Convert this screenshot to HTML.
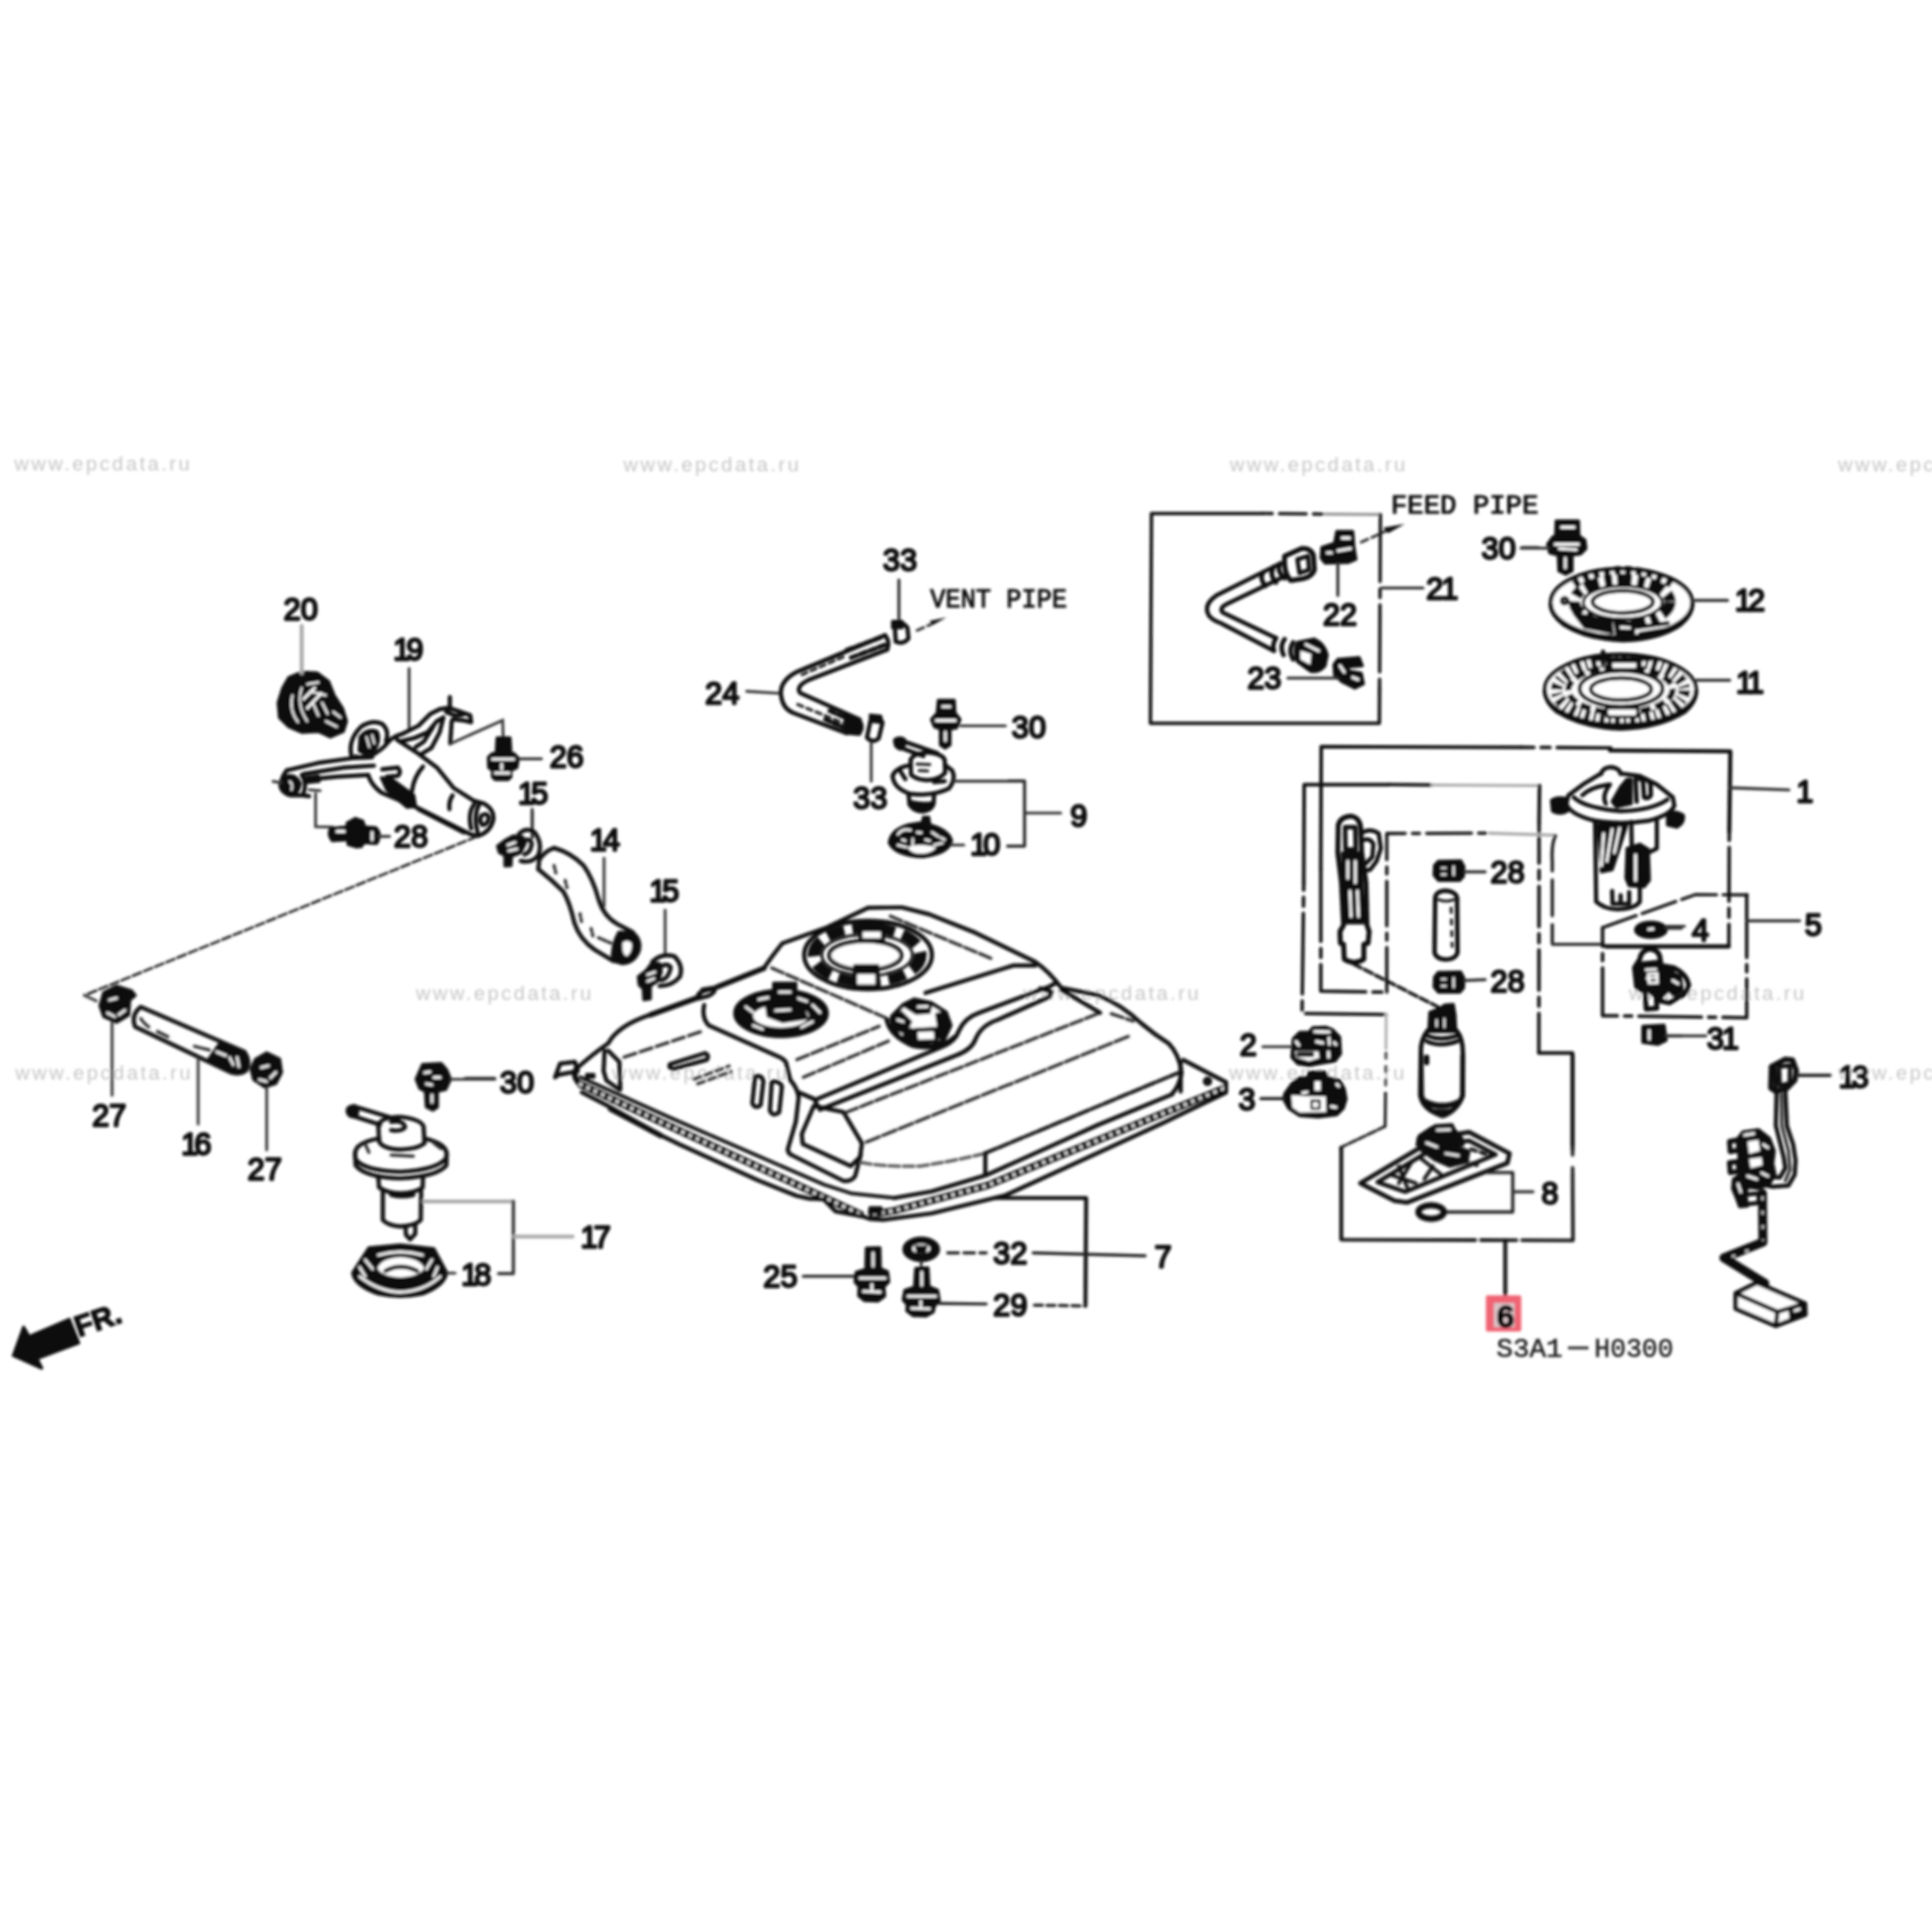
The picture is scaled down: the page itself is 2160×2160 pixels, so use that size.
<!DOCTYPE html>
<html><head><meta charset="utf-8"><title>Fuel tank parts diagram</title>
<style>
html,body{margin:0;padding:0;background:#fff;}
body{width:2160px;height:2160px;overflow:hidden;font-family:"Liberation Sans",sans-serif;}
svg{display:block;position:absolute;left:0;top:0;}
svg *{vector-effect:non-scaling-stroke;}
.k{fill:none;stroke:#0c0c0c;stroke-width:4.7;stroke-linecap:round;stroke-linejoin:round;}
.t{fill:none;stroke:#2a2a2a;stroke-width:3.5;stroke-linecap:round;stroke-linejoin:round;}
.l{fill:none;stroke:#333;stroke-width:3.1;stroke-linecap:round;}
.f{fill:#0c0c0c;stroke:#0c0c0c;stroke-width:3.4;stroke-linejoin:round;}
.w{fill:#fff;stroke:#0c0c0c;stroke-width:4.5;stroke-linejoin:round;stroke-linecap:round;}
.ws{fill:none;stroke:#fff;stroke-width:3;stroke-linecap:round;}
.n{font-family:"Liberation Sans",sans-serif;font-size:34.5px;fill:#0a0a0a;stroke:#0a0a0a;stroke-width:2.3;stroke-linejoin:round;text-anchor:middle;}
.wm{font-family:"Liberation Sans",sans-serif;font-size:22.5px;fill:#c6c6c6;}
.m{font-family:"Liberation Mono",monospace;font-size:29px;fill:#111;stroke:#111;stroke-width:1.1;}
</style></head><body>
<svg width="2160" height="2160" viewBox="0 0 2160 2160">
<defs><filter id="bl" x="-2%" y="-2%" width="104%" height="104%"><feGaussianBlur stdDeviation="1.8"/></filter></defs>
<rect width="2160" height="2160" fill="#fff"/>
<g filter="url(#bl)">
<!-- t00_wm.svg -->
<text class="wm" x="16" y="526" textLength="196" lengthAdjust="spacing">www.epcdata.ru</text>
<text class="wm" x="697" y="527" textLength="196" lengthAdjust="spacing">www.epcdata.ru</text>
<text class="wm" x="1375" y="527" textLength="196" lengthAdjust="spacing">www.epcdata.ru</text>
<text class="wm" x="2055" y="527" textLength="196" lengthAdjust="spacing">www.epcdata.ru</text>
<text class="wm" x="465" y="1118" textLength="196" lengthAdjust="spacing">www.epcdata.ru</text>
<text class="wm" x="1144" y="1118" textLength="196" lengthAdjust="spacing">www.epcdata.ru</text>
<text class="wm" x="1821" y="1118" textLength="196" lengthAdjust="spacing">www.epcdata.ru</text>
<text class="wm" x="17" y="1207" textLength="196" lengthAdjust="spacing">www.epcdata.ru</text>
<text class="wm" x="684" y="1207" textLength="196" lengthAdjust="spacing">www.epcdata.ru</text>
<text class="wm" x="1374" y="1207" textLength="196" lengthAdjust="spacing">www.epcdata.ru</text>
<text class="wm" x="2055" y="1207" textLength="196" lengthAdjust="spacing">www.epcdata.ru</text>

<!-- t01_bracket.svg -->
<g transform="translate(240,620) scale(0.207039)">
<!-- cap 20 -->
<path class="f" d="M400,665 L470,635 L555,640 L615,685 L645,760 L690,830 L712,900 L695,955 L625,985 L560,955 L470,960 L400,930 L350,880 L343,800 L368,720 Z"/>
<path class="ws" d="M420,760 Q400,840 450,905" style="stroke-width:2px"/>
<path class="ws" d="M470,720 Q440,810 500,900" style="stroke-width:2px"/>
<path class="ws" d="M500,700 L560,690 M520,740 L600,760 M530,800 L560,870 M580,800 L610,860 M600,900 L660,930 M640,850 L680,880" style="stroke-width:2.2px"/>
<path class="ws" d="M480,780 L540,720 M500,830 L575,750"/>
<!-- leader 20 -->
<path class="l" d="M470,385 L470,640" style="stroke:#aaa;stroke-width:4.5px"/>
<!-- leader 19 -->
<path class="l" d="M1050,615 L1050,940"/>
<!-- bracket ring -->
<path class="k" d="M738,1085 Q720,1000 790,930 Q850,890 905,915 Q945,950 925,1010"/>
<path class="k" d="M760,1090 Q790,1100 820,1085"/>
<path class="f" d="M785,985 Q825,935 878,955 Q900,1000 862,1060 Q820,1090 780,1060 Z"/><path class="ws" d="M820,985 L835,1040 M850,975 L862,1020" style="stroke-width:2px"/>
<!-- upper arm -->
<path class="k" d="M830,1095 Q900,1060 940,1010 Q960,985 1010,970 L1100,925 L1165,860 L1215,835 L1265,828 L1330,850 L1380,868 L1385,905 L1340,895 L1285,890"/>
<path class="k" d="M1270,770 L1270,835"/>
<path class="k" d="M1250,850 L1300,870 L1340,865"/>
<path class="k" d="M1000,1010 L1080,990 L1150,960 L1200,900 L1235,880"/>
<path class="k" d="M1235,880 L1215,960 L1170,1045 L1120,1075"/>
<path class="k" d="M1180,930 L1130,1010 L1085,1040"/>
<path class="k" d="M1280,900 L1272,1020"/>
<!-- left arm -->
<path class="k" d="M390,1165 L560,1125 L740,1100 L850,1095"/>
<path class="k" d="M480,1185 L700,1150 L860,1140"/>
<path class="k" d="M500,1215 L660,1200 L830,1190"/>
<path class="k" d="M390,1165 Q360,1200 355,1250 Q365,1290 410,1300 L470,1300 L510,1305"/>
<path class="k" d="M470,1190 Q500,1230 480,1290"/>
<path class="f" d="M380,1200 Q435,1180 462,1235 Q455,1295 405,1298 Q360,1265 380,1200 Z"/><path class="ws" d="M405,1225 Q425,1240 415,1270" style="stroke-width:2px"/><path class="f" d="M490,1205 L560,1195 L565,1225 L495,1232 Z"/>
<path class="l" d="M315,1225 L360,1232"/>
<!-- main cone tube -->
<path class="k" d="M985,1000 L1100,1075 L1200,1150 L1290,1260 L1400,1330 L1455,1345 Q1510,1375 1505,1430 Q1490,1500 1420,1520 L1380,1510"/>
<path class="k" d="M830,1195 Q850,1250 900,1285 L1100,1370 L1370,1505"/>
<path class="k" d="M1125,1145 Q1075,1200 1065,1280"/>
<path class="k" d="M1285,1300 Q1262,1335 1268,1375"/>
<path class="k" d="M1400,1350 Q1365,1400 1385,1480"/>
<path class="k" d="M1430,1345 Q1395,1410 1420,1500"/>
<path class="k" d="M1440,1410 Q1470,1390 1480,1420 Q1475,1460 1445,1460 Q1428,1440 1440,1410 Z"/>
<path class="k" d="M905,1160 L990,1150 Q1010,1175 990,1195 L930,1200"/>
<path class="f" d="M900,1205 L960,1215 L1075,1300 L1085,1360 L1040,1365 L985,1320 L930,1270 Z"/>
<path class="k" d="M1100,1375 L1345,1500"/>
<!-- line to bolt 26 -->
<path class="l" d="M1272,1022 L1555,895 L1558,985"/>
<!-- bolt 26 -->
<path class="f" d="M1525,990 L1595,990 L1600,1080 L1520,1080 Z"/>
<path class="f" d="M1478,1095 L1500,1075 L1615,1075 L1640,1100 L1632,1150 L1600,1165 L1600,1200 L1585,1215 L1515,1215 L1500,1200 L1500,1165 L1480,1150 Z"/>
<path class="ws" d="M1500,1105 L1615,1105 M1515,1180 L1590,1180 M1550,1130 L1550,1160"/>
<path class="l" d="M1645,1103 L1765,1103"/>
<!-- line to bolt 28 -->
<path class="l" d="M545,1290 L545,1470 L640,1472"/>
<path class="l" d="M510,1270 L570,1275"/>
<!-- bolt 28 left -->
<path class="f" d="M625,1480 L720,1470 L720,1540 L635,1545 Q610,1515 625,1480 Z"/>
<path class="f" d="M715,1450 L760,1425 L800,1440 L805,1560 L770,1580 L720,1565 Z"/>
<path class="w" d="M770,1440 Q810,1500 775,1572 L790,1575 Q830,1500 795,1440 Z"/>
<path class="f" d="M800,1470 L870,1475 Q905,1510 875,1560 L805,1555 Z"/>
<path class="ws" d="M660,1495 L700,1495 M850,1500 L850,1540"/>
<path class="l" d="M885,1522 L945,1522"/>
<!-- leader 15 -->
<path class="l" d="M1715,1385 L1715,1530"/>
</g>

<!-- t02_tube16.svg -->
<path d="M534,935 L94,1113" fill="none" stroke="#222" stroke-width="2.8" stroke-dasharray="12 1.5"/>
<g transform="translate(60,1000) scale(0.207039)">
<path class="l" d="M165,545 L230,575"/>
<!-- nut 27 left -->
<path class="f" d="M270,530 L340,495 L420,520 L440,545 L410,570 L405,650 L340,690 L270,660 L250,600 Z"/>
<path class="ws" d="M300,570 L340,560 M290,640 L330,660 M350,650 L385,625"/>
<path class="l" d="M315,690 L315,1085"/>
<!-- tube 16 -->
<path class="k" d="M470,607 L1030,850 Q1065,900 1040,950 Q1010,975 960,962 L440,715 Q415,650 470,607 Z"/>
<path class="f" d="M900,800 L1030,850 Q1065,900 1040,950 Q1010,975 960,962 L830,900 Z"/>
<path class="ws" d="M880,850 L930,870 M950,880 L970,920 M990,880 L1000,930"/>
<path class="t" d="M470,670 Q490,700 520,720 M560,740 L620,770 M760,820 L840,840" stroke-dasharray="3 2"/>
<path class="l" d="M780,885 L780,1240"/>
<!-- nut 27 right -->
<path class="f" d="M1090,890 L1150,855 L1220,890 L1230,960 L1200,1020 L1140,1040 L1080,1000 L1065,940 Z"/>
<path class="ws" d="M1120,935 L1160,925 M1110,1000 L1150,1010 M1170,990 L1200,960"/>
<path class="l" d="M1150,1040 L1150,1380"/>
</g>

<!-- t03_valve17.svg -->
<g transform="translate(340,1160) scale(0.207039)">
<!-- bolt 30 -->
<path class="f" d="M640,145 L740,140 L770,175 L790,225 L765,280 L720,290 L720,375 L695,392 L660,375 L655,290 L625,275 L605,225 Z"/>
<path class="ws" d="M650,190 L680,185 M700,215 L735,215 M660,250 L690,255 M690,310 L690,350"/>
<path class="l" d="M792,225 L1030,225"/>
<!-- valve 17 -->
<path class="k" d="M272,372 L510,445 M250,420 L410,470"/>
<path class="k" d="M272,370 Q232,372 236,402 Q246,432 280,422 Q296,398 272,370 Z"/>
<path class="f" d="M255,385 Q273,388 272,408 Q258,418 248,404 Z"/>
<path class="k" d="M470,455 Q540,445 545,485 Q520,510 470,500"/>
<path class="k" d="M400,470 Q420,430 520,428 Q630,440 645,480 L650,570"/>
<path class="k" d="M400,470 L405,560 Q420,600 520,605 Q620,600 650,570"/>
<path class="k" d="M405,545 Q330,555 290,590 Q265,620 280,660 Q330,720 520,725 Q720,715 768,650 Q780,610 740,580 Q700,555 650,545"/>
<path class="k" d="M275,620 L278,690 Q330,755 520,760 Q720,750 768,690 L770,630"/>
<path class="t" d="M330,575 L350,620 M700,570 L740,600 M470,635 L590,640"/>
<path class="k" d="M400,750 L405,810 Q450,840 520,842 Q600,838 640,810 L642,750"/>
<path class="k" d="M425,830 L425,985 Q450,1015 520,1020 Q600,1015 630,985 L632,830"/>
<path class="k" d="M470,850 Q520,865 590,850"/>
<path class="k" d="M548,1020 L550,1065 L572,1090 L600,1060 L600,1015"/>
<!-- bracket lines -->
<path class="l" d="M645,885 L1130,885" style="stroke:#aaa;stroke-width:4.2px"/>
<path class="t" d="M1130,885 L1130,1275 L1050,1275"/>
<path class="l" d="M1135,1075 L1450,1075" style="stroke:#aaa;stroke-width:4.2px"/>
<!-- ring 18 -->
<path class="f" d="M350,1135 L520,1120 L700,1140 L770,1270 Q760,1340 640,1385 Q520,1410 400,1385 Q270,1340 262,1270 Z"/>
<path class="ws" d="M400,1175 Q520,1140 640,1175" />
<path d="M395,1245 Q420,1190 520,1185 Q620,1190 650,1245 Q620,1290 520,1295 Q420,1290 395,1245 Z" fill="#fff" stroke="none"/>
<path class="k" d="M440,1260 Q520,1215 610,1260"/>
<path class="ws" d="M300,1290 Q400,1370 520,1375 Q650,1370 735,1290"/>
<path class="ws" d="M330,1200 L370,1250 M690,1200 L660,1250 M300,1240 L330,1290 M720,1240 L700,1290"/>
<path class="l" d="M772,1272 L815,1272"/>
</g>

<!-- t04_hose14.svg -->
<g transform="translate(520,860) scale(0.207039)">
<path class="l" d="M362,215 L362,370"/>
<!-- clamp 15 upper -->
<path class="k" d="M290,350 Q330,310 375,340 Q420,400 395,465 Q360,510 300,495"/>
<path class="k" d="M320,385 Q350,370 360,400 Q355,450 320,460"/>
<path class="f" d="M175,415 L215,385 L260,360 L310,365 L325,400 L300,450 L250,470 L248,520 L215,522 L215,465 L185,450 Z"/>
<path class="ws" d="M230,410 L270,395 M235,440 L280,430"/>
<!-- hose 14 -->
<path class="k" d="M480,425 Q570,450 640,520 Q690,590 720,700 Q745,790 820,835 L905,880"/>
<path class="k" d="M395,540 Q470,600 530,660 Q565,720 590,830 Q620,920 700,975 L800,1035"/>
<path class="k" d="M480,425 Q430,440 400,490 L395,540"/>
<path class="f" d="M830,880 L905,880 Q955,920 940,980 Q915,1045 850,1050 L795,1035 Q790,950 830,880 Z"/>
<path d="M850,935 Q880,915 900,940 Q905,985 875,1010 Q845,1005 850,935 Z" fill="#fff"/>
<path class="t" d="M480,520 L490,560 M540,600 L550,640 M620,780 L630,830 M680,860 L690,900 M720,910 L790,940" stroke-dasharray="3 3"/>
<path class="l" d="M750,480 L750,740"/>
<!-- clamp 15 lower -->
<path class="l" d="M1080,760 L1080,1000"/>
<path class="k" d="M1010,1040 Q1060,990 1130,1010 Q1180,1060 1160,1120 Q1120,1170 1050,1170"/>
<path class="k" d="M1050,1070 Q1090,1040 1110,1070 Q1100,1130 1060,1140"/>
<path class="f" d="M935,1120 L975,1090 L1010,1045 L1050,1050 L1060,1090 L1045,1140 L1000,1170 L1000,1240 L965,1245 L962,1185 L940,1165 Z"/>
<path class="ws" d="M985,1110 L1025,1095 M985,1145 L1020,1130"/>
<!-- 30 leader -->
<path class="l" d="M0,1668 L160,1668"/>
</g>

<!-- t05_tank.svg -->
<g transform="translate(780,960) scale(0.207039)">
<!-- outer silhouette -->
<path class="k" d="M-653,1132 Q-560,1050 -483,997 Q-430,900 -253,842 L-3,752"/>
<path class="k" d="M-253,842 L-3,752" style="stroke-width:6px"/>
<path class="k" d="M-3,752 L27,707 L87,697 L107,692 L357,592 Q390,540 457,457 L700,370 L920,265 L1100,262 L1250,300 L1500,400 L1823,557 Q1900,610 1963,697 L2163,737 Q2293,790 2393,887 Q2463,947 2543,997 Q2603,1060 2613,1157 Q2600,1230 2563,1267"/>
<path class="k" d="M5,755 Q-10,725 40,712 L90,700 Q100,720 60,740 Z"/>
<path class="k" d="M107,692 L357,592" style="stroke-width:6px"/>
<!-- left tab -->
<path class="k" d="M-743,1107 L-663,1097 L-648,1147 L-753,1167 L-770,1180 Z"/>
<path class="k" d="M-653,1132 Q-680,1170 -640,1215" style="stroke-width:6px"/>
<path class="f" d="M-600,1165 L-560,1165 L-560,1180 L-600,1180 Z"/>
<!-- left-front flange -->
<path class="k" d="M-633,1180 L-150,1398 L324,1604 L683,1760 L833,1808 L1063,1832" style="stroke-width:4px"/>
<path class="k" d="M-640,1215 L-160,1440 L490,1740 L890,1925" style="stroke-width:8px;stroke-linecap:butt"/><path d="M-640,1215 L-160,1440 L490,1740 L890,1925" fill="none" stroke="#fff" style="stroke-width:3px;stroke-linecap:butt" stroke-dasharray="4 5"/>
<path class="k" d="M-625,1262 L-493,1330 L-193,1497 L-96,1544 L324,1736 L533,1820 L600,1835 L680,1838 L744,1904 L894,1932 L933,1945"/>
<path class="k" d="M-470,1352 L-200,1495" style="stroke-width:6px"/>
<!-- right-front flange -->
<path class="k" d="M2563,1272 L2163,1437 L1563,1707 L1263,1797 L1063,1832"/>
<path class="k" d="M2843,1240 L2063,1560 L1563,1765 L1063,1900 L920,1925" style="stroke-width:8px;stroke-linecap:butt"/><path d="M2843,1240 L2063,1560 L1563,1765 L1063,1900 L920,1925" fill="none" stroke="#fff" style="stroke-width:3px;stroke-linecap:butt" stroke-dasharray="4 5"/>
<path class="k" d="M2623,1087 L2853,1207 L2853,1262 L2513,1427 L1663,1817 L1263,1915 L1000,1950 L933,1945"/>
<path class="f" d="M930,1885 L990,1885 L990,1910 L930,1910 Z"/>
<circle cx="2753" cy="1202" r="14" class="k"/>
<path class="k" d="M2608,1097 L2608,1257"/>
<!-- left front face -->
<path class="k" d="M-503,1037 L-508,1147 L-493,1197 L-423,1247"/>
<path class="k" d="M-483,1037 L-423,1097 L-418,1247"/>
<path class="t" d="M-398,1072 L37,927" stroke-dasharray="14 5"/>
<path class="k" d="M-150,1110 L40,1050 Q65,1060 50,1085 L-130,1135 Q-160,1130 -150,1110 Z"/>
<path class="t" d="M-20,1190 L170,1120 M0,1215 L180,1150" stroke-dasharray="8 5"/>
<path class="k" d="M310,1175 Q345,1165 355,1200 L340,1330 Q310,1355 295,1320 Z"/>
<path class="k" d="M400,1205 Q440,1195 455,1230 L440,1370 Q405,1395 390,1360 Z"/>
<!-- raised panel -->
<path class="k" d="M35,790 Q20,860 60,900 L440,1070 Q470,1085 477,1100 L500,1195 Q540,1240 545,1290 L530,1420 L487,1567 Q485,1590 507,1600 L787,1740 Q830,1745 850,1715 L880,1600"/>
<path class="k" d="M627,1335 L787,1368 L887,1537 L877,1610 L827,1660 L567,1540 L562,1487 Z"/>
<path class="k" d="M545,1262 L630,1298 L650,1340"/>
<path class="t" d="M400,590 L1040,870" stroke-dasharray="14 4"/>
<path class="t" d="M1040,310 L1600,545" stroke-dasharray="14 4"/>
<path class="t" d="M535,1085 L980,905" stroke-dasharray="14 4"/>
<path class="t" d="M570,1180 L1030,985" stroke-dasharray="14 4"/>
<path class="k" d="M1230,725 L1703,577 L1823,577"/>
<path class="k" d="M640,1300 L1310,1020 Q1390,990 1410,930 Q1440,860 1520,832 L1900,690 L1932,672"/>
<path class="k" d="M660,1355 L1400,1060 Q1480,1030 1500,975 Q1530,900 1620,870 L1900,745 L1910,718 L1850,700"/>
<path class="t" d="M800,1370 L2173,832" stroke-dasharray="14 4"/>
<path class="k" d="M1963,707 L2173,832"/>
<path class="t" d="M2233,837 L2353,877" stroke-dasharray="14 4"/>
<path class="t" d="M910,1530 L2333,957" stroke-dasharray="16 4"/>
<path class="k" d="M1553,1590 L2593,1157" stroke-dasharray="13 3" style="stroke-width:4px"/>
<path class="t" d="M880,1640 Q1000,1665 1200,1660 Q1400,1630 1553,1590" stroke-dasharray="12 4" style="stroke:#555"/><path class="k" d="M1553,1590 L1553,1700"/>
<!-- ring R1 -->
<ellipse cx="920" cy="520" rx="345" ry="185" class="k"/>
<ellipse cx="915" cy="520" rx="285" ry="138" fill="none" stroke="#111" style="stroke-width:15px" stroke-dasharray="19 9"/><ellipse cx="915" cy="520" rx="245" ry="112" class="t"/>
<ellipse cx="905" cy="522" rx="195" ry="78" class="w"/>
<path class="w" d="M880,345 L1000,345 L1000,440 L880,440 Z"/>
<path class="f" d="M880,345 L1000,345 L1000,385 L880,385 Z"/>
<path class="w" d="M850,580 L970,580 L970,690 L850,690 Z"/>
<path class="f" d="M850,580 L970,580 L970,615 L850,615 Z"/>
<!-- ring R2 -->
<ellipse cx="450" cy="835" rx="250" ry="125" class="f"/>
<ellipse cx="450" cy="850" rx="150" ry="62" fill="#fff"/>
<path class="ws" d="M260,800 L300,830 M620,790 L660,830 M300,900 L350,920 M560,910 L620,880 M330,760 L380,750 M530,750 L590,770"/>
<path class="f" d="M410,672 L530,672 L530,770 L410,770 Z"/>
<path class="f" d="M370,780 L560,790 L590,860 L460,880 L380,850 Z"/>
<path class="ws" d="M420,820 L500,815 M440,720 L500,720"/>
<path class="k" d="M300,930 Q450,985 610,925"/>
<!-- ring R3 -->
<path class="w" d="M1050,850 L1110,790 L1170,760 L1260,780 L1340,830 L1365,900 L1330,975 L1270,1010 L1180,1010 L1100,970 L1050,910 Z"/>
<path class="f" d="M1110,790 L1170,760 L1260,780 L1250,830 L1180,835 Z"/>
<path class="f" d="M1050,850 L1100,830 L1150,880 L1120,940 L1060,915 Z"/>
<path class="f" d="M1290,840 L1340,830 L1365,900 L1330,975 L1290,960 L1300,900 Z"/>
<path class="f" d="M1100,970 L1150,920 L1175,930 L1180,1010 Z"/>
<path class="k" d="M1175,925 L1285,920 L1290,985 L1180,990 Z"/>
<path class="ws" d="M1190,800 L1240,798 M1080,870 L1110,880"/>
<path class="k" d="M1020,870 Q1040,960 1160,1010 Q1300,1040 1390,960"/>
</g>

<!-- t08_vent.svg -->
<g transform="translate(780,590) scale(0.238095)">
<path class="l" d="M945,245 L945,440" style="stroke-width:3.4px"/>
<!-- clip 33 top -->
<path class="k" d="M925,450 Q960,435 985,470 L990,520 Q965,550 930,535 Z"/>
<path class="f" d="M915,440 L960,440 L960,470 L915,470 Z"/>
<!-- arrow -->
<path class="t" d="M1030,482 L1100,452" stroke-dasharray="8 5" style="stroke-width:3px"/>
<path d="M1088,438 L1168,421 L1106,456 Z" fill="#111"/>
<!-- leader 24 -->
<path class="l" d="M230,768 L390,778"/>
<!-- hose 24 -->
<path class="k" d="M880,505 L470,675 Q380,720 392,790 Q400,850 450,870 L700,965"/>
<path class="k" d="M890,572 L520,715 Q460,745 480,775 L760,900"/>
<path class="k" d="M880,505 Q905,535 890,572" />
<path class="k" d="M700,575 L860,515 M720,610 L880,550" style="stroke-width:5px" stroke-dasharray="7 4"/>
<path class="t" d="M490,690 L700,600" stroke-dasharray="6 5"/>
<path class="t" d="M470,830 L690,920" stroke-dasharray="6 5"/>
<path class="f" d="M690,885 L760,900 Q785,935 760,970 L700,965 Z"/>
<path class="k" d="M620,860 L700,895 M600,900 L690,940" style="stroke-width:5px" stroke-dasharray="6 4"/>
<!-- clip 33 bottom -->
<path class="k" d="M815,890 Q850,880 868,915 L850,990 Q820,1015 795,985 Z"/>
<path class="f" d="M810,880 L860,885 L865,915 L815,910 Z"/>
<path class="l" d="M815,1010 L815,1190"/>
<!-- bolt 30 -->
<path class="f" d="M1130,810 L1205,810 L1208,870 L1232,900 L1215,940 L1185,945 L1185,1020 L1162,1035 L1140,1020 L1140,945 L1112,935 L1098,900 L1125,870 Z"/>
<path class="ws" d="M1150,840 L1185,840 M1120,905 L1210,905 M1163,960 L1163,1000"/>
<path class="l" d="M1235,930 L1445,930"/>
<!-- valve 9 -->
<path class="k" d="M955,1000 L1125,1058 M945,1030 L1060,1072"/>
<path class="f" d="M925,995 Q950,978 972,995 Q980,1025 950,1040 Q922,1030 925,995 Z"/>
<path class="k" d="M1000,1090 Q1010,1060 1080,1055 Q1150,1062 1160,1090 L1162,1150"/>
<path class="k" d="M1000,1090 L1002,1160 Q1030,1185 1085,1185 Q1140,1180 1162,1150"/>
<path class="t" d="M1030,1110 L1090,1112 M1040,1140 L1080,1142"/>
<path class="k" d="M1000,1115 Q930,1125 915,1165 Q920,1225 1000,1250 Q1100,1262 1180,1225 Q1215,1180 1195,1140 L1162,1115"/>
<path class="k" d="M950,1140 L975,1180 M1110,1195 L1160,1190"/>
<path class="k" d="M990,1250 L995,1300 Q1020,1335 1060,1332 Q1100,1325 1108,1295 L1110,1250"/>
<path class="f" d="M995,1285 Q1020,1335 1060,1332 Q1100,1325 1108,1290 Q1060,1300 995,1285 Z"/>
<!-- bracket 9 -->
<path class="l" d="M1205,1190 L1535,1190"/>
<path class="t" d="M1460,1190 L1535,1190 L1535,1495 L1455,1495"/>
<path class="l" d="M1540,1340 L1705,1340"/>
<!-- part 10 -->
<path class="f" d="M1060,1360 L1085,1360 L1090,1395 Q1180,1420 1192,1470 Q1180,1530 1060,1545 Q930,1540 900,1480 Q905,1420 990,1395 L1055,1385 Z"/>
<path class="ws" d="M940,1440 Q960,1410 1000,1420 M940,1490 L980,1500 M1010,1460 L1010,1500 M1100,1430 L1130,1450 M1110,1490 L1150,1480 M1030,1430 L1050,1432 M960,1465 L975,1470 M1070,1465 L1090,1470 M1140,1455 L1160,1465" style="stroke-width:2.4px"/>
<path d="M985,1500 Q1050,1480 1120,1500 Q1100,1530 1050,1530 Q1000,1530 985,1500 Z" fill="#fff"/>
<path class="l" d="M1190,1490 L1250,1490"/>
</g>

<!-- t09_feed.svg -->
<g transform="translate(1260,530) scale(0.238095)">
<!-- box 21 -->
<path class="k" d="M640,185 L115,185 L110,1170 L1185,1170 L1186,1000" style="stroke-width:3.8px"/><path class="k" d="M640,185 L930,188" stroke-dasharray="10 8 30 8" style="stroke-width:3.6px"/><path class="t" d="M930,188 L1190,190" style="stroke:#999"/><path class="k" d="M1190,190 L1186,1000" stroke-dasharray="75 8 10 8" style="stroke-width:3.6px"/>
<!-- arrow -->
<path class="t" d="M1100,320 L1215,268" stroke-dasharray="8 5" style="stroke-width:3px"/>
<path d="M1203,252 L1304,234 L1226,278 Z" fill="#111"/>
<!-- part 22 -->
<path class="f" d="M985,270 L1060,270 L1065,340 L1075,400 L1040,415 L930,418 L912,395 L915,345 L975,325 Z"/>
<path class="ws" d="M1010,300 L1045,300 M940,370 L960,370 M990,360 L1050,350"/>
<path class="l" d="M990,420 L990,570" style="stroke-width:3.4px"/>
<!-- pipe -->
<path class="k" d="M720,420 L420,570 Q355,615 385,665 Q400,685 440,700 L690,830"/>
<path class="k" d="M740,480 L470,610 Q430,630 450,650 L700,770"/>
<!-- upper connector -->
<path class="k" d="M640,460 Q620,490 650,525 M690,435 Q665,470 700,510 M720,420 Q700,455 740,490" style="stroke-width:5px"/>
<path class="k" d="M740,385 L820,350 Q860,345 875,380 L880,450 Q870,480 830,490 L770,500 Q735,470 740,385 Z" style="stroke-width:5.5px"/>
<path class="k" d="M800,400 L850,385 L855,450 L810,465 Z"/>
<!-- lower connector -->
<path class="k" d="M700,770 Q680,800 690,830 M740,775 Q715,810 735,850 M780,790 Q755,830 780,870" style="stroke-width:5px"/>
<path class="f" d="M800,790 L880,775 Q930,800 940,850 L930,900 Q900,935 860,925 L800,880 Q780,830 800,790 Z"/>
<path d="M815,830 L865,845 L860,895 L815,870 Z" fill="#fff"/>
<path class="ws" d="M840,800 L900,830"/>
<!-- part 23 -->
<path class="f" d="M990,870 L1090,862 L1105,900 L1040,905 L1040,925 L1100,935 L1110,985 L1070,1005 L1010,975 L975,945 L972,895 Z"/>
<path class="ws" d="M1000,900 L1020,930 M1060,955 L1085,965"/>
<path class="l" d="M755,958 L990,958"/>
<!-- leader 21 -->
<path class="l" d="M1195,535 L1390,535"/>
<path class="l" d="M1855,345 L1932,345"/>
</g>

<!-- t10_rings.svg -->
<g transform="translate(1660,530) scale(0.238095)">
<!-- bolt 30 -->
<path class="f" d="M335,220 L440,220 L442,290 L470,310 L475,350 L450,375 L410,380 L410,455 L380,470 L348,455 L345,380 L305,370 L295,330 L320,295 L333,290 Z"/>
<path class="ws" d="M360,250 L420,250 M330,330 L440,330 M378,395 L378,440 M350,350 L430,355"/>
<path class="l" d="M170,348 L300,348" style="stroke-width:3.4px"/>
<!-- ring 12 -->
<ellipse cx="642" cy="605" rx="332" ry="160" class="w"/>
<path class="k" d="M310,615 Q312,660 370,705 Q480,775 650,780 Q820,775 920,705 Q972,660 975,610" style="stroke-width:5px"/>
<ellipse cx="645" cy="600" rx="225" ry="105" fill="none" stroke="#111" style="stroke-width:13px" stroke-dasharray="17 6 9 5"/>
<ellipse cx="648" cy="603" rx="185" ry="78" class="w" style="stroke-width:3.4px"/>
<ellipse cx="648" cy="600" rx="142" ry="52" class="w"/>
<path d="M420,520 Q520,455 650,450 Q790,455 880,520" fill="none" stroke="#111" style="stroke-width:9px" stroke-dasharray="7 5"/>
<path class="f" d="M420,655 L590,690 L600,745 L470,720 Z"/>
<path class="f" d="M610,690 L700,700 L700,760 L620,755 Z"/>
<path class="ws" d="M640,720 L680,722"/>
<path class="k" d="M720,720 L860,700 M730,750 L880,725"/>
<circle cx="375" cy="595" r="13" class="k"/>
<!-- ring 11 -->
<ellipse cx="637" cy="1012" rx="355" ry="165" class="w"/>
<path class="k" d="M282,1020 Q285,1070 340,1115 Q460,1190 640,1195 Q820,1190 940,1115 Q992,1070 992,1020" style="stroke-width:5px"/>
<ellipse cx="637" cy="1015" rx="300" ry="138" fill="none" stroke="#111" style="stroke-width:13px" stroke-dasharray="6 4 3 4"/>
<ellipse cx="637" cy="1013" rx="245" ry="108" fill="none" stroke="#111" style="stroke-width:7px" stroke-dasharray="12 5"/>
<ellipse cx="640" cy="1008" rx="195" ry="84" class="w"/>
<ellipse cx="640" cy="1010" rx="142" ry="52" class="w"/>
<path class="w" d="M590,880 L720,880 L715,918 L595,918 Z" style="stroke-width:3.4px"/>
<path class="w" d="M570,1098 L720,1098 L715,1140 L575,1140 Z" style="stroke-width:3.4px"/>
<path class="k" d="M555,835 L560,885 M520,870 L780,868" style="stroke-width:5px"/>
<!-- leaders -->
<path class="l" d="M975,593 L1140,593" style="stroke-width:3.4px"/>
<path class="l" d="M975,968 L1150,968" style="stroke-width:3.4px"/>
</g>

<!-- t11_assy.svg -->
<g transform="translate(1420,820) scale(0.238095)">
<!-- box 1 (left+top part) -->
<path class="k" d="M1600,68 L1180,65" stroke-dasharray="60 8 10 8" style="stroke-width:3.8px"/><path class="k" d="M1180,65 L240,62 L238,640" style="stroke-width:4px"/><path class="k" d="M238,640 L238,1210 L545,1215" stroke-dasharray="80 8 10 8" style="stroke-width:3.8px"/>
<!-- box 6 -->
<path class="k" d="M545,1320 L150,1315 L158,700" stroke-dasharray="90 8 10 8" style="stroke-width:3.8px"/><path class="k" d="M158,700 L160,240 L560,240" style="stroke-width:4px"/><path class="k" d="M560,240 L760,242" stroke-dasharray="50 8 10 8" style="stroke-width:3.8px"/><path class="t" d="M760,242 L1265,245" style="stroke:#aaa;stroke-width:3.4px"/><path class="k" d="M1265,245 L1263,420" style="stroke-width:4px"/><path class="k" d="M1263,420 L1262,1500" stroke-dasharray="45 8 10 8" style="stroke-width:3.8px"/><path class="k" d="M1262,1500 L1420,1500 L1420,1932" style="stroke-width:4px"/>
<path class="t" d="M545,1320 L544,1480" style="stroke:#b5b5b5;stroke-width:3.4px"/><path class="t" d="M544,1500 L542,1690" stroke-dasharray="6 9" style="stroke:#555"/><path class="t" d="M542,1690 L540,1845" style="stroke:#222;stroke-width:3.4px"/><path class="t" d="M540,1845 L330,1945" stroke-dasharray="9 3" style="stroke:#222;stroke-width:3.2px"/>
<!-- inner box -->
<path class="k" d="M548,1215 L548,470 L1030,468" stroke-dasharray="50 8 8 8" style="stroke-width:3.6px"/>
<path class="t" d="M1030,468 L1335,478" style="stroke:#aaa;stroke-width:3.4px"/>
<path class="t" d="M1340,480 Q1320,520 1325,600 L1325,985" stroke-dasharray="40 10" style="stroke:#1a1a1a;stroke-width:3.6px"/>
<path class="t" d="M1325,990 L1565,990"/>
<!-- sensor -->
<path class="k" d="M320,430 Q330,390 380,388 Q420,395 425,440 L430,560 L450,700 L455,900 L465,930 L460,985 L440,990 L440,1060 Q395,1090 348,1060 L345,990 L330,985 L328,930 L345,900 L335,700 L318,560 Z" style="stroke-width:5.5px"/>
<path class="k" d="M352,440 L400,440 L402,545 L354,545 Z" style="stroke-width:5px"/>
<path class="k" d="M425,470 Q470,440 510,470 L520,540 L500,600 L470,640 L440,645"/>
<path class="k" d="M440,500 Q470,490 485,520 L480,580 L450,610"/>
<path class="f" d="M340,560 L420,560 L430,700 L440,890 L350,890 L345,700 Z"/>
<path class="ws" d="M365,600 L365,680 M400,600 L400,700 M375,740 L380,860 M410,740 L415,860"/>
<path class="t" d="M390,1082 L800,1290" stroke-dasharray="10 4" style="stroke:#111;stroke-width:3.6px"/>
<!-- bolt 28 upper -->
<path class="f" d="M790,600 L895,598 L910,625 L908,670 L890,690 L790,690 L770,665 L772,620 Z"/>
<path class="ws" d="M805,632 L825,632 M805,662 L825,662 M862,625 L862,665" style="stroke-width:2.2px"/>
<path class="l" d="M915,650 L1010,650" style="stroke-width:3.4px"/>
<!-- tube -->
<path class="k" d="M775,770 Q780,740 825,738 Q870,742 878,770 L880,1030 Q870,1060 825,1062 Q780,1058 772,1030 Z" style="stroke-width:5px"/>
<path class="t" d="M790,780 Q825,795 865,780"/>
<path class="t" d="M850,820 L855,1000" stroke-dasharray="5 8"/>
<!-- bolt 28 lower -->
<path class="f" d="M790,1122 L895,1120 L910,1150 L908,1195 L890,1215 L790,1215 L770,1190 L772,1145 Z"/>
<path class="ws" d="M805,1154 L825,1154 M805,1186 L825,1186 M862,1148 L862,1192" style="stroke-width:2.2px"/>
<path class="l" d="M915,1160 L1010,1156" style="stroke-width:3.4px"/>
<!-- pump -->
<path class="f" d="M750,1310 L800,1290 L820,1275 L860,1272 L868,1320 L872,1400 L745,1400 Z"/>
<path class="ws" d="M782,1345 L782,1375 M818,1340 L818,1380" style="stroke-width:2px"/>
<path class="k" d="M740,1395 Q705,1440 708,1500 L705,1700 Q720,1770 800,1790 Q880,1775 905,1700 L905,1500 Q905,1430 875,1395" style="stroke-width:5px"/>
<path class="k" d="M735,1445 Q800,1475 880,1445 M740,1420 Q800,1445 878,1420"/>
<path class="t" d="M735,1520 L735,1640" stroke-dasharray="6 30" style="stroke-width:6px;stroke:#111"/>
<path class="k" d="M740,1740 Q800,1765 870,1740"/>
<!-- filter top peek -->
<path class="f" d="M760,1850 L850,1845 L900,1900 L905,1932 L690,1932 L700,1890 Z"/>
<!-- part 4 washer -->
<ellipse cx="1788" cy="922" rx="72" ry="36" class="f"/>
<path class="ws" d="M1778,920 L1798,918"/>
<path class="l" d="M1860,915 L1932,915"/>
<!-- part 31 -->
<path class="f" d="M1750,1375 L1850,1370 L1860,1440 L1820,1460 L1750,1450 Z"/>
<path class="ws" d="M1780,1395 L1780,1435"/>
<path class="l" d="M1860,1420 L1932,1420"/>
</g>

<!-- t12_module.svg -->
<g transform="translate(1700,820) scale(0.238095)">
<!-- box 1 right -->
<path class="k" d="M420,80 L985,84 L980,460" style="stroke-width:4.6px"/>
<path class="k" d="M980,460 L978,1000" stroke-dasharray="10 8 60 8" style="stroke-width:3.8px"/>
<path class="k" d="M978,1000 L400,1000" style="stroke-width:4.6px"/>
<path class="l" d="M985,255 L1260,265" style="stroke-width:3.4px"/>
<!-- box 6 right side -->
<!-- box 5 -->
<path class="k" d="M385,912 L820,757 L1065,758" stroke-dasharray="40 7" style="stroke-width:3.4px"/>
<path class="k" d="M1062,758 L1062,1335 L385,1325 L385,912" stroke-dasharray="70 8 8 8" style="stroke-width:3.8px"/>
<path class="l" d="M1065,880 L1310,880" style="stroke-width:3.4px"/>
<path class="l" d="M684,905 L770,905"/>
<path class="l" d="M684,1420 L870,1420" style="stroke-width:3.4px"/>
<!-- pump module -->
<path class="k" d="M378,190 Q385,160 425,158 Q465,162 470,190"/>
<path class="k" d="M378,188 L300,235 L225,290 L215,330 Q230,380 350,410 Q470,430 600,410 Q700,385 722,340 L715,300 L640,240 L560,200 L470,188"/>
<path class="k" d="M250,300 Q300,350 470,365 Q620,360 690,310"/>
<path class="k" d="M290,290 Q330,250 420,240 Q380,290 400,330"/>
<path class="f" d="M470,250 L500,215 L520,215 L520,330 L450,345 L430,320 Z"/><path class="k" d="M540,215 L545,320 M575,225 L580,300 Q600,310 612,290 L610,235 Q590,205 560,215" style="stroke-width:5px"/>
<path class="f" d="M145,315 Q165,295 215,305 L220,365 Q180,385 150,365 Z"/>
<path class="f" d="M690,375 Q730,360 765,385 Q770,420 735,440 L690,430 Z"/>
<path class="k" d="M350,410 L355,790 Q400,830 470,825 Q540,820 560,790 L560,640"/>
<path class="f" d="M365,430 L500,425 L470,520 L430,640 L380,650 Z"/>
<path class="ws" d="M390,470 L380,620 M430,450 L405,600 M465,445 L440,560"/>
<path class="k" d="M520,415 L522,530 M640,410 L640,540 L600,560"/>
<path class="f" d="M500,540 L560,520 L600,545 L605,690 L580,720 L510,715 L495,680 Z"/>
<path class="ws" d="M540,570 L540,690"/>
<path class="k" d="M430,740 L432,800 L510,800 L510,745 M470,760 L470,800"/>
<!-- regulator -->
<path class="k" d="M560,1060 Q565,1020 605,1012 Q650,1015 655,1055 L660,1090 L720,1100 Q780,1130 790,1180 Q780,1230 740,1240 L700,1265 L650,1255 L635,1210 L640,1290 L590,1295 L585,1215 L545,1190 L535,1100 Z" style="stroke-width:5.5px"/>
<path class="f" d="M548,1080 L650,1070 L665,1100 L720,1105 L700,1200 L650,1250 L600,1210 L550,1185 Z"/><path class="ws" d="M600,1130 L640,1128 L642,1170 L604,1172 Z"/>
<path class="ws" d="M590,1110 L635,1108 M595,1150 L640,1145"/>
<path class="f" d="M700,1120 L750,1140 L760,1210 L720,1230 L690,1200 Z"/>
<path class="ws" d="M715,1160 L740,1175"/>
</g>

<!-- t13_filter.svg -->
<g transform="translate(1440,1180) scale(0.238095)">
<!-- box 6 lower -->
<path class="k" d="M250,435 L250,862" style="stroke-width:4.2px"/>
<path class="k" d="M250,865 L1338,868 L1336,560" stroke-dasharray="150 6 40 6" style="stroke-width:3.8px"/>
<path class="k" d="M1336,560 L1336,440" stroke-dasharray="8 14" style="stroke-width:3.6px"/>
<path class="k" d="M1336,440 L1336,0" style="stroke-width:4.2px"/>
<path class="k" d="M1020,868 L1020,1120" style="stroke-width:4.4px"/>
<!-- red 6 -->
<rect x="929" y="1126" width="166" height="170" rx="8" fill="#f06473"/><rect x="966" y="1162" width="98" height="114" fill="#d9c3c6"/>
<!-- filter 8 -->
<path class="k" d="M340,600 L700,385 L850,360 L1040,460 L1030,505 L560,690 L500,682 Z" style="stroke-width:5px"/>
<path class="k" d="M420,595 L710,420 L850,400 L975,465 L550,640 Z"/>
<path class="k" d="M480,560 L600,600 M520,520 L560,620 M580,500 L520,600 M620,480 L720,560 M680,520 L640,580" style="stroke-width:4px"/>
<path class="f" d="M690,330 L770,325 L790,370 L800,430 L850,450 L840,500 L760,520 L690,490 L620,440 L610,390 L660,365 Z"/>
<path class="ws" d="M700,350 L760,348 M650,410 L700,430 M740,460 L800,470"/>
<path class="k" d="M860,440 L950,470 M820,490 L900,520" style="stroke-width:4px" stroke-dasharray="6 5"/>
<!-- pump bottom -->
<path class="k" d="M625,0 L628,190 Q660,265 725,285 Q790,265 818,190 L820,0" style="stroke-width:5px"/>
<path class="k" d="M650,215 Q725,250 800,215"/>
<path class="k" d="M690,260 L760,260"/>
<!-- bracket 8 -->
<path class="t" d="M930,550 L1055,550 L1055,735 L735,735" style="stroke:#222;stroke-width:3.6px"/>
<path class="l" d="M1060,640 L1150,640" style="stroke-width:3.6px"/>
<!-- o-ring -->
<ellipse cx="672" cy="735" rx="60" ry="32" fill="none" stroke="#111" style="stroke-width:7px"/>
</g>

<!-- t14_sender.svg -->
<g transform="translate(1820,1160) scale(0.175983)">
<!-- connector 13 -->
<path class="k" d="M912,185 L1000,138 L1045,142 L1070,210 L1060,272 L1010,322 L940,342 L908,320 Z" style="stroke-width:6px"/>
<path class="k" d="M960,185 L1030,178 L1028,290 L965,305 Z"/>
<path class="k" d="M912,185 L935,200 L940,340"/>
<path class="l" d="M1075,240 L1285,240" style="stroke-width:3.6px;stroke:#222"/>
<!-- wire -->
<path class="k" d="M945,345 L940,560 L960,640 L990,760 L1000,830 L965,890 L915,885"/>
<path class="k" d="M1000,340 L1010,560 L1050,680 L1065,780 L1060,870 L1020,940 L920,948 L830,930"/>
<path class="t" d="M975,360 L978,560 L1020,720 L1030,840 L1000,910"/>
<!-- sender body -->
<path class="f" d="M730,600 L830,585 L900,640 L930,720 L920,800 L935,870 L900,930 L830,960 L760,950 L750,1000 L760,1070 L710,1075 L690,1020 L665,960 L670,900 L710,870 L700,640 Z"/>
<path d="M760,660 L830,650 L840,720 L770,740 Z M770,770 L850,760 L855,810 L780,830 Z" fill="#fff"/>
<path class="ws" d="M740,620 L800,610 M860,680 L890,700 M760,880 L820,900 M850,860 L890,880 M700,930 L720,990"/>
<path class="k" d="M645,660 L700,650 L705,715 L650,725 Z M645,795 L700,788 L705,850 L650,858 Z" style="stroke-width:5.5px"/>
<path class="k" d="M725,1000 L830,990 L832,1050 L730,1062 Z"/>
<!-- float arm -->
<path d="M855,990 L858,1300 L610,1400 L870,1560" fill="none" stroke="#111" stroke-linejoin="round" stroke-linecap="round" style="stroke-width:10px"/>
<path d="M855,1010 L858,1290 M660,1392 L800,1338" fill="none" stroke="#fff" style="stroke-width:2px" stroke-dasharray="4 12"/>
<!-- float -->
<path class="w" d="M685,1625 L820,1558 L1125,1690 L1128,1760 L940,1832 L685,1722 Z" style="stroke-width:5px"/>
<path class="k" d="M685,1625 L950,1742 L1125,1690 M950,1742 L940,1830"/>
<path class="f" d="M1030,1725 L1115,1700 L1118,1755 L1035,1790 Z"/>
<path class="ws" d="M1060,1735 L1090,1725"/>
</g>

<!-- t15_bolts.svg -->
<g transform="translate(820,1320) scale(0.269151)">
<!-- bracket 7 -->
<path class="k" d="M1090,72 L1465,72 L1462,520" style="stroke-width:4.4px"/>
<path class="t" d="M1250,517 L1462,520" stroke-dasharray="9 5" style="stroke:#222"/>
<path class="l" d="M1245,300 L1710,312" style="stroke-width:3.4px;stroke:#222"/>
<path class="t" d="M890,300 L1050,300" stroke-dasharray="12 6" style="stroke:#222"/>
<!-- washer 32 -->
<ellipse cx="780" cy="285" rx="72" ry="47" class="f"/>
<ellipse cx="780" cy="282" rx="38" ry="20" fill="#fff"/>
<path class="f" d="M760,275 L800,275 L795,295 L765,295 Z"/>
<path class="t" d="M780,335 L780,360" stroke-dasharray="3 3"/>
<!-- bolt 25 -->
<path class="l" d="M290,397 L510,397" style="stroke-width:3.4px;stroke:#222"/>
<path class="f" d="M552,280 L608,278 L610,365 L640,378 L645,420 L625,440 L628,480 L600,500 L545,498 L520,478 L522,440 L505,420 L510,380 L550,368 Z"/>
<path class="ws" d="M580,300 L580,355 M525,405 L630,405 M540,460 L610,462 M575,430 L575,455"/>
<!-- bolt 29 -->
<path class="f" d="M757,365 L808,362 L812,440 L848,455 L855,500 L835,520 L830,545 L800,562 L745,560 L720,540 L722,515 L705,495 L712,455 L752,442 Z"/>
<path class="ws" d="M782,380 L782,435 M725,480 L840,480 M740,530 L815,532 M778,500 L778,525"/>
<path class="l" d="M855,510 L1050,512" style="stroke-width:3.4px;stroke:#222"/>
</g>

<!-- t16_fr.svg -->
<g transform="translate(0,1380) scale(0.175983)">
<path class="f" d="M85,770 L150,590 L185,650 L440,540 L500,690 L235,790 L265,850 Z"/>
</g>
<text transform="translate(88,1495) rotate(-19)" font-family="Liberation Sans, sans-serif" font-weight="bold" font-size="33" fill="#111" stroke="#111" stroke-width="1.5">FR.</text>

<!-- t17_parts23.svg -->
<g transform="translate(1360,1120) scale(0.10352)">
<!-- part 2 -->
<path class="f" d="M830,400 L900,330 L1000,330 L1040,280 L1180,275 L1250,300 L1330,380 L1340,560 L1280,640 L1150,660 L1000,690 L880,670 L815,600 Z"/>
<path d="M850,535 L1100,535 L1110,605 L1000,640 L860,600 Z" fill="#fff"/>
<path class="ws" d="M1060,320 L1220,325 M1080,430 L1150,445 M1215,390 L1220,460 M1270,440 L1290,460 M860,430 L890,470 M1210,540 L1212,600"/>
<path class="f" d="M880,560 L1040,560 L1040,580 L880,580 Z"/>
<path class="l" d="M500,485 L810,485" style="stroke-width:3px"/>
<!-- part 3 -->
<path class="f" d="M820,880 L900,820 L990,815 L1000,760 L1170,758 L1200,820 L1330,850 L1380,940 L1400,1050 L1370,1150 L1300,1220 L1100,1245 L900,1230 L780,1150 L725,1050 L740,990 Z"/>
<path d="M810,1010 L960,1020 L1180,1025 L1185,1190 L900,1195 L820,1140 Z" fill="#fff"/>
<path d="M1060,860 L1125,860 L1125,960 L1060,960 Z" fill="#fff"/>
<path class="f" d="M1030,1070 L1110,1070 L1110,1150 L1030,1150 Z"/>
<path class="ws" d="M1055,1095 L1055,1130 M1085,1095 L1085,1130 M930,985 L980,975 M1300,890 L1320,910 M1240,1130 L1290,1140"/>
<path class="l" d="M480,1045 L730,1045" style="stroke-width:3.4px;stroke:#222"/>
</g>

<!-- t90_text.svg -->
<text class="n" x="336.3" y="692.6">20</text>
<text class="n" x="456.4" y="738.2">1<tspan dx="-4.5">9</tspan></text>
<text class="n" x="633.6" y="857.9">26</text>
<text class="n" x="459.5" y="946.6">28</text>
<text class="n" x="596.0" y="898.6">1<tspan dx="-4.5">5</tspan></text>
<text class="n" x="676.3" y="951.3">1<tspan dx="-4.5">4</tspan></text>
<text class="n" x="742.6" y="1008.2">1<tspan dx="-4.5">5</tspan></text>
<text class="n" x="578.0" y="1221.9">30</text>
<text class="n" x="122.1" y="1259.0">27</text>
<text class="n" x="219.4" y="1291.1">1<tspan dx="-4.5">6</tspan></text>
<text class="n" x="296.0" y="1319.0">27</text>
<text class="n" x="666.0" y="1395.2">1<tspan dx="-4.5">7</tspan></text>
<text class="n" x="532.5" y="1436.6">1<tspan dx="-4.5">8</tspan></text>
<text class="n" x="1006.2" y="638.3">33</text>
<text class="n" x="807.4" y="787.1">24</text>
<text class="n" x="972.9" y="903.8">33</text>
<text class="n" x="1150.2" y="825.2">30</text>
<text class="n" x="1206.2" y="924.0">9</text>
<text class="n" x="1101.4" y="956.4">1<tspan dx="-4.5">0</tspan></text>
<text class="n" x="1498.1" y="698.6">22</text>
<text class="n" x="1413.6" y="770.0">23</text>
<text class="n" x="1612.4" y="670.0">2<tspan dx="-2.5">1</tspan></text>
<text class="n" x="1675.5" y="624.7">30</text>
<text class="n" x="1956.4" y="683.1">1<tspan dx="-4.5">2</tspan></text>
<text class="n" x="1956.4" y="774.7">1<tspan dx="-4.5">1</tspan></text>
<text class="n" x="2017.9" y="896.9">1</text>
<text class="n" x="2027.4" y="1045.7">5</text>
<text class="n" x="1901.2" y="1051.6">4</text>
<text class="n" x="1926.2" y="1173.1">3<tspan dx="-2.5">1</tspan></text>
<text class="n" x="2072.5" y="1215.7">1<tspan dx="-4.5">3</tspan></text>
<text class="n" x="1685.5" y="987.4">28</text>
<text class="n" x="1685.5" y="1108.8">28</text>
<text class="n" x="1395.7" y="1179.6">2</text>
<text class="n" x="1394.2" y="1241.3">3</text>
<text class="n" x="1732.9" y="1346.2">8</text>
<text class="n" x="1683.2" y="1483.5" style="font-weight:bold;font-size:35px;stroke-width:1.6px;fill:#000;stroke:#000">6</text>
<text class="n" x="1300.4" y="1417.4">7</text>
<text class="n" x="1129.5" y="1413.3">32</text>
<text class="n" x="872.5" y="1438.9">25</text>
<text class="n" x="1129.5" y="1471.2">29</text>
<text class="m" x="1040" y="679" textLength="153" lengthAdjust="spacingAndGlyphs">VENT PIPE</text>
<text class="m" x="1555" y="573.5" textLength="165" lengthAdjust="spacingAndGlyphs">FEED PIPE</text>
<text x="1673" y="1517" font-family="Liberation Mono, monospace" font-size="29" fill="#222" stroke="#222" stroke-width="0.6" textLength="74" lengthAdjust="spacingAndGlyphs">S3A1</text>
<path d="M1753,1507 L1776,1507" stroke="#222" stroke-width="3" fill="none"/>
<text x="1782.5" y="1517" font-family="Liberation Mono, monospace" font-size="29" fill="#222" stroke="#222" stroke-width="0.6" textLength="88.5" lengthAdjust="spacingAndGlyphs">H0300</text>

</g>
</svg>
</body></html>
